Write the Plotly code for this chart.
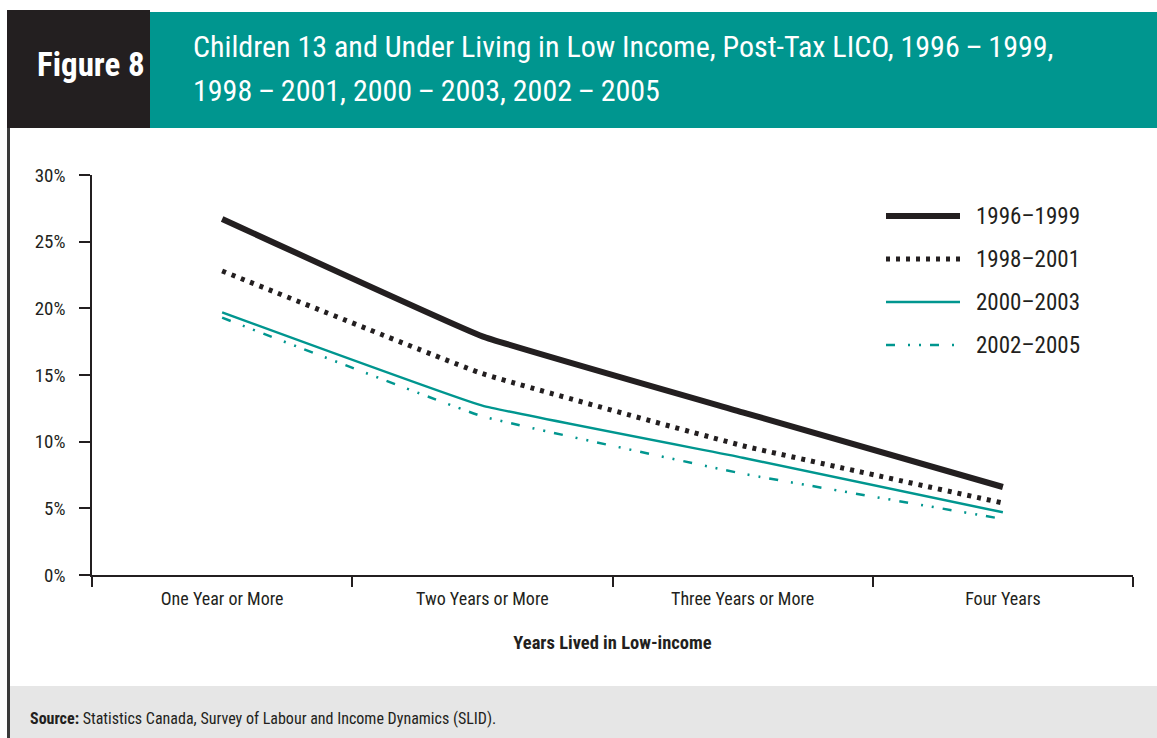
import plotly.graph_objects as go

W, H = 1157, 738

categories = ["One Year or More", "Two Years or More", "Three Years or More", "Four Years"]
series_names = ["1996\u20131999", "1998\u20132001", "2000\u20132003", "2002\u20132005"]
values_1996_1999 = [26.7, 17.9, 12.2, 6.6]
values_1998_2001 = [22.8, 15.1, 9.7, 5.4]
values_2000_2003 = [19.7, 12.7, 8.8, 4.7]
values_2002_2005 = [19.3, 11.9, 7.6, 4.2]
y_ticks = [0, 5, 10, 15, 20, 25, 30]
y_tick_labels = [f"{t}%" for t in y_ticks]

FONT = "Roboto Condensed, DejaVu Sans Condensed, sans-serif"
INK = "#231f20"
TEAL = "#00968f"

styles = [
    dict(color=INK, width=6, dash="solid"),
    dict(color=INK, width=5, dash="4px,6px"),
    dict(color=TEAL, width=2.5, dash="solid"),
    dict(color=TEAL, width=2.5, dash="9px,13px,2px,9px,2px,9px"),
]
all_values = [values_1996_1999, values_1998_2001, values_2000_2003, values_2002_2005]


def px(x):
    return x / W


def py(y):
    return 1 - y / H


fig = go.Figure()
for name, vals, st in zip(series_names, all_values, styles):
    fig.add_trace(go.Scatter(
        x=categories, y=vals, name=name, mode="lines",
        line=dict(color=st["color"], width=st["width"], dash=st["dash"],
                  shape="spline", smoothing=0.25),
        showlegend=False, hoverinfo="skip",
    ))

shapes = [
    # header blocks
    dict(type="rect", xref="paper", yref="paper", x0=px(7), x1=px(150), y0=py(128), y1=py(10),
         fillcolor=INK, line=dict(width=0), layer="below"),
    dict(type="rect", xref="paper", yref="paper", x0=px(150), x1=1, y0=py(128), y1=py(12),
         fillcolor=TEAL, line=dict(width=0), layer="below"),
    # footer band
    dict(type="rect", xref="paper", yref="paper", x0=px(10), x1=1, y0=0, y1=py(686),
         fillcolor="#e6e6e6", line=dict(width=0), layer="below"),
    # left frame border
    dict(type="line", xref="paper", yref="paper", x0=px(8.5), x1=px(8.5), y0=0, y1=py(128),
         line=dict(color="#3a3a3a", width=3)),
]

DASH = "\u2009\u2013\u2009"
annotations = [
    dict(text="<b>Figure 8</b>", xref="paper", yref="paper", x=px(91), y=py(64),
         xanchor="center", yanchor="middle", showarrow=False,
         font=dict(family=FONT, size=33, color="white")),
    dict(text=f"Children 13 and Under Living in Low Income, Post-Tax LICO, 1996{DASH}1999,",
         xref="paper", yref="paper", x=px(191), y=py(46),
         xanchor="left", yanchor="middle", showarrow=False,
         font=dict(family=FONT, size=30, color="white")),
    dict(text=f"1998{DASH}2001, 2000{DASH}2003, 2002{DASH}2005",
         xref="paper", yref="paper", x=px(191), y=py(90),
         xanchor="left", yanchor="middle", showarrow=False,
         font=dict(family=FONT, size=30, color="white")),
    dict(text="<b>Source:</b> Statistics Canada, Survey of Labour and Income Dynamics (SLID).",
         xref="paper", yref="paper", x=px(28), y=py(718),
         xanchor="left", yanchor="middle", showarrow=False,
         font=dict(family=FONT, size=16, color=INK)),
]

# legend drawn as sample strokes with labels
legend_rows = [216, 259, 302, 345]
for name, st, yrow in zip(series_names, styles, legend_rows):
    shapes.append(dict(type="line", xref="paper", yref="paper",
                       x0=px(886), x1=px(960), y0=py(yrow), y1=py(yrow),
                       line=dict(color=st["color"], width=st["width"], dash=st["dash"])))
    annotations.append(dict(text=name, xref="paper", yref="paper", x=px(974), y=py(yrow),
                            xanchor="left", yanchor="middle", showarrow=False,
                            font=dict(family=FONT, size=23, color=INK)))

fig.update_layout(
    template="none",
    width=W, height=H,
    margin=dict(l=0, r=0, t=0, b=0, autoexpand=False),
    paper_bgcolor="white", plot_bgcolor="white",
    font=dict(family=FONT, color=INK),
    shapes=shapes, annotations=annotations,
    showlegend=False,
    xaxis=dict(
        domain=[px(92), px(1133)],
        type="category", range=[-0.5, 3.5],
        automargin=False,
        showline=True, linecolor=INK, linewidth=1.5,
        ticks="outside", tickson="boundaries", ticklen=10, tickcolor=INK, tickwidth=1.5,
        ticklabelstandoff=7,
        showgrid=False, zeroline=False,
        tickfont=dict(size=18, color=INK),
        title=dict(text="<b>Years Lived in Low-income</b>", font=dict(size=18.5, color=INK), standoff=28),
        anchor="y",
    ),
    yaxis=dict(
        domain=[py(575), py(175)],
        range=[0, 30],
        automargin=False,
        tickvals=y_ticks, ticktext=y_tick_labels,
        showline=True, linecolor=INK, linewidth=1.5,
        ticks="outside", ticklen=11, tickcolor=INK, tickwidth=1.5,
        ticklabelstandoff=10,
        showgrid=False, zeroline=False,
        tickfont=dict(size=19, color=INK),
        anchor="x",
    ),
)

fig.write_html("out.html")
